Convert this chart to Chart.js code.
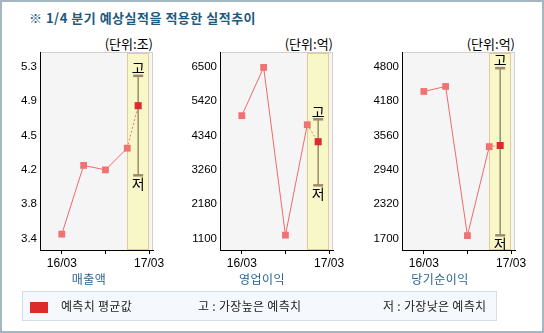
<!DOCTYPE html>
<html>
<head>
<meta charset="utf-8">
<script src="https://cdn.jsdelivr.net/npm/chart.js@4.4.1/dist/chart.umd.min.js"></script>
<style>
body { margin: 0; background: #fff; }
#wrap { position: relative; width: 544px; height: 333px; overflow: hidden; font-family: "Noto Sans CJK KR", sans-serif; }
#frame { position: absolute; left: 0; top: 0; width: 544px; height: 333px; box-sizing: border-box; border: 2px solid #a3b6c2; }
.abs { position: absolute; white-space: nowrap; line-height: 1; }
.title { left: 29px; top: 11px; font-size: 13px; font-weight: bold; color: #1d5a7e; letter-spacing: 0.5px; }
.unit { top: 37px; font-size: 13px; color: #000; text-align: right; width: 80px; }
.cat { top: 273px; font-size: 12px; color: #2a6490; letter-spacing: 0.5px; transform: translateX(-50%); }
.panel { position: absolute; top: 40px; }
#legend { position: absolute; left: 22px; top: 291px; width: 475px; height: 30px; box-sizing: border-box; background: #f5f8fd; border: 1px solid #d3dde8; }
#swatch { position: absolute; left: 30px; top: 302px; width: 18px; height: 11px; background: #dd2b2b; }
.leg { top: 300px; font-size: 12px; color: #222; letter-spacing: 0.3px; }
</style>
</head>
<body>
<div id="wrap">
  <div class="abs title">※ 1/4 분기 예상실적을 적용한 실적추이</div>

  <div class="abs unit" style="left:73px">(단위:조)</div>
  <div class="abs unit" style="left:253px">(단위:억)</div>
  <div class="abs unit" style="left:435px">(단위:억)</div>

  <canvas class="panel" id="c1" width="180" height="245" style="left:0px"></canvas>
  <canvas class="panel" id="c2" width="180" height="245" style="left:180px"></canvas>
  <canvas class="panel" id="c3" width="180" height="245" style="left:362px"></canvas>

  <div class="abs cat" style="left:89px">매출액</div>
  <div class="abs cat" style="left:262px">영업이익</div>
  <div class="abs cat" style="left:440px">당기순이익</div>

  <div id="legend"></div>
  <div id="swatch"></div>
  <div class="abs leg" style="left:61px">예측치 평균값</div>
  <div class="abs leg" style="left:198px">고 : 가장높은 예측치</div>
  <div class="abs leg" style="left:383px">저 : 가장낮은 예측치</div>
  <div id="frame"></div>
</div>

<script>
// x axis: quarters 16/03 .. 17/03
const quarterTicks = [0, 1, 2, 3, 4];
const quarterLabels = ['16/03', '', '', '', '17/03'];
const forecastAt = 3.5;

// 매출액 (조)
const salesActual = [3.45, 4.21, 4.16, 4.40];
const salesAvg = 4.87, salesHigh = 5.20, salesLow = 4.10;
const salesTicks = [3.4, 3.78, 4.16, 4.54, 4.92, 5.3];
const salesTickLabels = ['3.4', '3.8', '4.2', '4.5', '4.9', '5.3'];

// 영업이익 (억)
const opActual = [4965, 6480, 1210, 4680];
const opAvg = 4145, opHigh = 4850, opLow = 2775;
const opTicks = [1100, 2180, 3260, 4340, 5420, 6500];
const opTickLabels = ['1100', '2180', '3260', '4340', '5420', '6500'];

// 당기순이익 (억)
const netActual = [4355, 4445, 1755, 3360];
const netAvg = 3380, netHigh = 4775, netLow = 1760;
const netTicks = [1700, 2320, 2940, 3560, 4180, 4800];
const netTickLabels = ['1700', '2320', '2940', '3560', '4180', '4800'];

const panelBg = {
    id: 'panelBg',
    beforeDraw(chart) {
        const ctx = chart.ctx, a = chart.chartArea, x = chart.scales.x;
        ctx.save();
        ctx.fillStyle = '#f5f5f5';
        ctx.fillRect(a.left, a.top, a.right - a.left, a.bottom - a.top);
        const x0 = x.getPixelForValue(3), x1 = x.getPixelForValue(4);
        ctx.fillStyle = '#f7f7c8';
        ctx.fillRect(x0, a.top, x1 - x0, a.bottom - a.top);
        ctx.strokeStyle = '#e2cc94';
        ctx.lineWidth = 1;
        ctx.strokeRect(Math.round(x0) + 0.5, a.top + 1.5, Math.round(x1 - x0) - 1, a.bottom - a.top - 2);
        ctx.strokeStyle = '#cfcfcf';
        ctx.beginPath();
        ctx.moveTo(a.left, a.top + 0.5);
        ctx.lineTo(a.right - 0.5, a.top + 0.5);
        ctx.lineTo(a.right - 0.5, a.bottom);
        ctx.stroke();
        ctx.restore();
    }
};

const hiLoText = {
    id: 'hiLoText',
    afterDatasetsDraw(chart) {
        const pts = chart.getDatasetMeta(1).data;
        const ctx = chart.ctx;
        ctx.save();
        ctx.fillStyle = '#000';
        ctx.font = '14px "Noto Sans CJK KR"';
        ctx.textAlign = 'center';
        ctx.textBaseline = 'bottom';
        ctx.fillText('고', pts[0].x, pts[0].y - 1);
        ctx.textBaseline = 'top';
        ctx.fillText('저', pts[1].x, pts[1].y + 1);
        ctx.restore();
    }
};

function makePanel(id, actual, avg, high, low, ticks, tickLabels, yWidth, padRight) {
    const step = ticks[1] - ticks[0];
    const points = actual.map(function(v, i) { return {x: i, y: v}; });
    new Chart(document.getElementById(id), {
        type: 'line',
        data: {
            datasets: [{
                data: [{x: forecastAt, y: avg}],
                showLine: false,
                pointStyle: 'rect',
                pointRadius: 5,
                pointBackgroundColor: '#dd2b2b',
                pointBorderColor: '#dd2b2b',
                pointBorderWidth: 0
            }, {
                data: [{x: forecastAt, y: high}, {x: forecastAt, y: low}],
                borderColor: '#9b8b6b',
                borderWidth: 1.5,
                pointStyle: 'line',
                pointRadius: 5,
                pointBorderColor: '#9b8b6b',
                pointBorderWidth: 2.5
            }, {
                data: [points[3], {x: forecastAt, y: avg}],
                borderColor: '#f07878',
                borderWidth: 1,
                borderDash: [2, 2],
                pointRadius: 0
            }, {
                data: points,
                borderColor: '#f06a6a',
                borderWidth: 1,
                pointStyle: 'rect',
                pointRadius: 4.8,
                pointBackgroundColor: '#f07272',
                pointBorderColor: '#f07272',
                pointBorderWidth: 0
            }]
        },
        options: {
            responsive: false,
            animation: false,
            events: [],
            layout: { padding: { top: 12, right: padRight, left: 0, bottom: 0 } },
            plugins: { legend: { display: false }, tooltip: { enabled: false } },
            scales: {
                x: {
                    type: 'linear',
                    min: -1,
                    max: 4.18,
                    afterBuildTicks: function(s) { s.ticks = quarterTicks.map(function(v) { return {value: v}; }); },
                    afterFit: function(s) { s.height = 35; },
                    ticks: {
                        color: '#000',
                        padding: 2,
                        maxRotation: 0,
                        font: { family: 'Liberation Sans', size: 12 },
                        callback: function(v, i) { return quarterLabels[i]; }
                    },
                    grid: { drawOnChartArea: false, drawTicks: true, tickLength: 4, color: '#000' },
                    border: { color: '#000' }
                },
                y: {
                    type: 'linear',
                    min: ticks[0] - 0.33 * step,
                    max: ticks[ticks.length - 1] + 0.43 * step,
                    afterBuildTicks: function(s) { s.ticks = ticks.map(function(v) { return {value: v}; }); },
                    afterFit: function(s) { s.width = yWidth; },
                    ticks: {
                        color: '#000',
                        padding: 3,
                        font: { family: 'Liberation Sans', size: 11.5 },
                        callback: function(v, i) { return tickLabels[i]; }
                    },
                    grid: { drawOnChartArea: false, drawTicks: false, color: 'transparent' },
                    border: { color: '#000' }
                }
            }
        },
        plugins: [panelBg, hiLoText]
    });
}

makePanel('c1', salesActual, salesAvg, salesHigh, salesLow, salesTicks, salesTickLabels, 40, 27);
makePanel('c2', opActual, opAvg, opHigh, opLow, opTicks, opTickLabels, 40, 27);
makePanel('c3', netActual, netAvg, netHigh, netLow, netTicks, netTickLabels, 40, 27);
</script>
</body>
</html>
